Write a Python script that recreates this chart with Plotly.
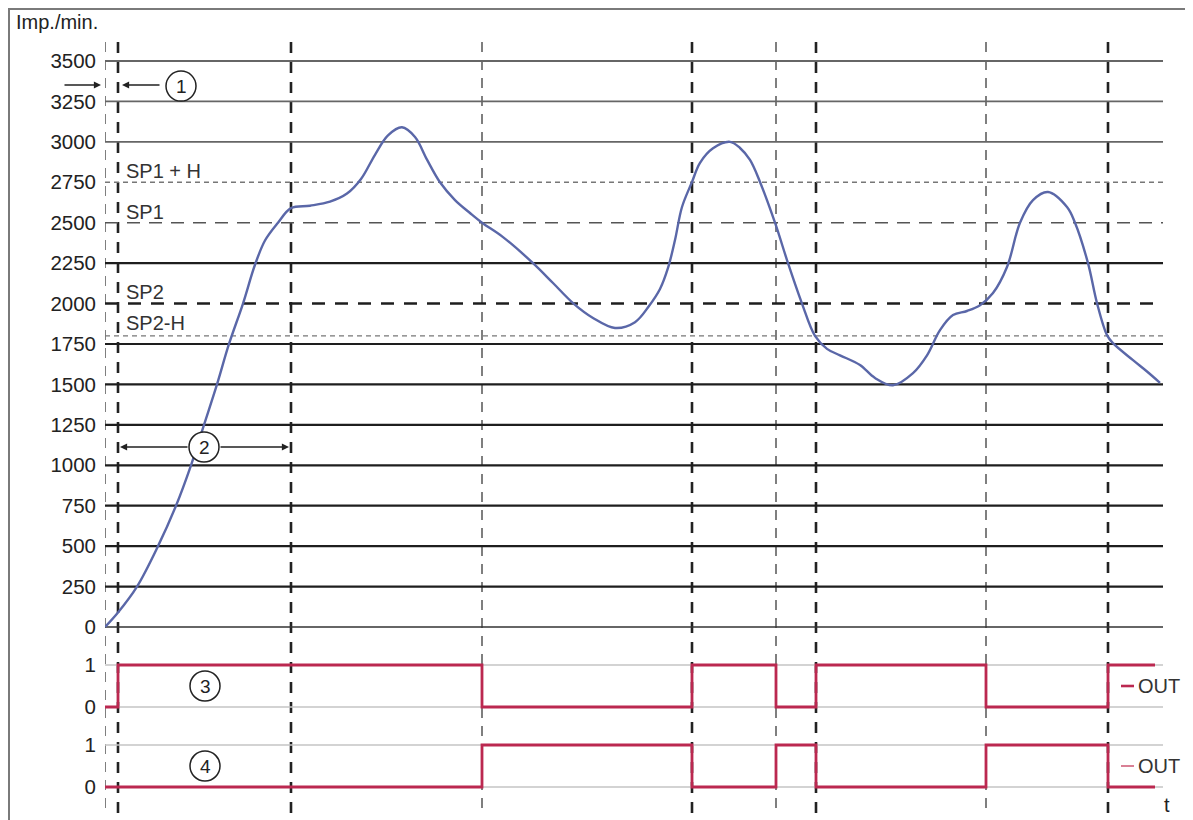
import plotly.graph_objects as go

# ---------------- data ----------------
t_curve = [0, 1.3, 3.2, 5.3, 7.1, 8.6, 9.9, 11.2, 12.4, 13.8,
           15.0, 16.0, 17.3, 18.6, 20.5, 22.5, 24.2, 25.6, 27.0, 28.3,
           29.7, 31.0, 32.2, 33.5, 35.0, 36.5, 37.7, 39.8, 42.8, 44.8,
           46.8, 48.8, 51.0, 53.0, 54.4, 55.5, 56.3, 57.0, 57.7, 58.7,
           59.5, 60.8, 62.5, 63.5, 64.5, 65.5, 67.0, 68.3, 69.7, 71.0,
           72.2, 73.5, 75.5, 77.0, 78.8, 80.8, 82.2, 83.5, 84.8, 86.2,
           87.5, 88.8, 90.2, 91.5, 92.8, 94.3, 96.2, 97.0, 98.3, 99.2,
           100.2, 100.8, 102.8, 104.2, 105.5]
speed = [0, 90, 250, 500, 750, 1000, 1250, 1500, 1750, 2000,
         2240, 2390, 2500, 2590, 2605, 2630, 2680, 2770, 2920, 3040,
         3090, 3030, 2890, 2750, 2640, 2560, 2500, 2411, 2250, 2127,
         2003, 1911, 1849, 1885, 1985, 2090, 2220, 2393, 2597, 2752,
         2870, 2960, 3000, 2962, 2888, 2752, 2500, 2250, 2000, 1800,
         1720, 1680, 1620, 1540, 1495, 1570, 1680, 1836, 1929, 1954,
         1990, 2065, 2226, 2500, 2640, 2690, 2597, 2500, 2250, 2003,
         1805, 1755, 1650, 1580, 1510]

t_out = [0, 1.3, 37.7, 58.7, 67.1, 71.1, 88.1, 100.3, 105.0]
out3 = [0, 1, 0, 1, 0, 1, 0, 1, 1]
out4 = [0, 0, 1, 0, 1, 0, 1, 0, 0]

thin_events = [0, 37.7, 67.1, 88.1]
thick_events = [1.3, 18.6, 58.7, 71.1, 100.3]

y_ticks = [0, 250, 500, 750, 1000, 1250, 1500, 1750, 2000, 2250, 2500, 2750, 3000, 3250, 3500]
solid_grid = [0, 250, 500, 750, 1000, 1250, 1500, 1750, 2250, 3000, 3250, 3500]
SP1_H, SP1, SP2, SP2_H = 2750, 2500, 2000, 1800
digital_ticks = [0, 1]
digital_labels = ["0", "1"]

# ---------------- geometry helpers (reference-pixel based) ----------------
OFF = 8                      # page body margin
W, H = 1193 - OFF, 820 - OFF
AX_LEFT, AX_RIGHT = 105, 1163  # reference pixels of the time axis
ML = AX_LEFT - OFF
MR = (W + OFF) - AX_RIGHT
PW = W - ML - MR
X_MAX = 105.8


def pxx(px):
    return (px - OFF - ML) / PW


def pxy(py):
    return 1 - (py - OFF) / H


FONT = "Liberation Sans, Arial, sans-serif"
RED = "#bb2850"
BLUE = "#5a67a8"

fig = go.Figure()

fig.add_trace(go.Scatter(x=t_curve, y=speed, mode="lines",
                         line=dict(color=BLUE, width=2.4, shape="spline", smoothing=1.0),
                         yaxis="y", hoverinfo="skip"))
fig.add_trace(go.Scatter(x=t_out, y=out3, mode="lines",
                         line=dict(color=RED, width=2.8, shape="hv"),
                         yaxis="y2", hoverinfo="skip"))
fig.add_trace(go.Scatter(x=t_out, y=out4, mode="lines",
                         line=dict(color=RED, width=2.8, shape="hv"),
                         yaxis="y3", hoverinfo="skip"))

shapes = []
for v in solid_grid:
    if v >= 3000:
        col, wd = "#666666", 1.8
    elif v == 0:
        col, wd = "#333333", 1.6
    else:
        col, wd = "#1e1e1e", 2.2
    shapes.append(dict(type="line", xref="x", yref="y", x0=0, x1=X_MAX, y0=v, y1=v,
                       line=dict(color=col, width=wd), layer="below"))
shapes.append(dict(type="line", xref="x", yref="y", x0=0, x1=X_MAX, y0=SP1_H, y1=SP1_H,
                   line=dict(color="#777777", width=1.6, dash="5px,4px"), layer="below"))
shapes.append(dict(type="line", xref="x", yref="y", x0=0, x1=X_MAX, y0=SP1, y1=SP1,
                   line=dict(color="#555555", width=1.6, dash="13px,9px"), layer="below"))
shapes.append(dict(type="line", xref="x", yref="y", x0=0, x1=X_MAX, y0=SP2, y1=SP2,
                   line=dict(color="#1e1e1e", width=2.5, dash="13px,10px"), layer="below"))
shapes.append(dict(type="line", xref="x", yref="y", x0=0, x1=X_MAX, y0=SP2_H, y1=SP2_H,
                   line=dict(color="#777777", width=1.4, dash="5px,4px"), layer="below"))
for ya in ("y2", "y3"):
    for v in digital_ticks:
        shapes.append(dict(type="line", xref="x", yref=ya, x0=0, x1=X_MAX, y0=v, y1=v,
                           line=dict(color="#c4c4c4", width=1.3), layer="below"))
for t in thin_events:
    shapes.append(dict(type="line", xref="x", yref="paper", x0=t, x1=t, y0=pxy(42), y1=pxy(815),
                       line=dict(color="#555555", width=1.5, dash="10px,8px"), layer="below"))
for t in thick_events:
    shapes.append(dict(type="line", xref="x", yref="paper", x0=t, x1=t, y0=pxy(42), y1=pxy(815),
                       line=dict(color="#222222", width=2.6, dash="11px,9px"), layer="below"))
shapes.append(dict(type="rect", xref="paper", yref="paper", x0=pxx(9), x1=pxx(1189),
                   y0=pxy(9), y1=pxy(840), line=dict(color="#7a7a7a", width=2),
                   fillcolor="rgba(0,0,0,0)", layer="above"))

circles = [("1", "x", "y", 7.6, 3345), ("2", "x", "y", 9.9, 1113),
           ("3", "x", "y2", 10.0, 0.5), ("4", "x", "y3", 10.0, 0.5)]
annotations = []
for lab, xr, yr, cx, cy in circles:
    shapes.append(dict(type="circle", xref=xr, yref=yr, xsizemode="pixel", ysizemode="pixel",
                       xanchor=cx, yanchor=cy, x0=-15, x1=15, y0=-15, y1=15,
                       line=dict(color="#222222", width=1.5), fillcolor="white", layer="above"))
    annotations.append(dict(x=cx, y=cy, xref=xr, yref=yr, text=lab, showarrow=False,
                            font=dict(family=FONT, size=19, color="#222222")))

for ya, col, wd in (("y2", RED, 2.6), ("y3", "#d0607a", 1.6)):
    shapes.append(dict(type="line", xref="x", yref=ya, x0=101.6, x1=102.9, y0=0.5, y1=0.5,
                       line=dict(color=col, width=wd), layer="above"))
    annotations.append(dict(x=103.1, y=0.5, xref="x", yref=ya, text="OUT", showarrow=False,
                            xanchor="left", yanchor="middle",
                            font=dict(family=FONT, size=20, color="#333333")))

arrow_style = dict(showarrow=True, arrowhead=2, arrowsize=1.1, arrowwidth=1.3,
                   arrowcolor="#222222", text="")
annotations.append(dict(x=pxx(101), y=pxy(85), xref="paper", yref="paper", ax=-38, ay=0, **arrow_style))
annotations.append(dict(x=pxx(122), y=pxy(85), xref="paper", yref="paper", ax=39, ay=0, **arrow_style))
annotations.append(dict(x=1.5, y=1113, xref="x", yref="y", ax=8.4, ay=1113,
                        axref="x", ayref="y", **arrow_style))
annotations.append(dict(x=18.4, y=1113, xref="x", yref="y", ax=11.4, ay=1113,
                        axref="x", ayref="y", **arrow_style))

for txt, v in (("SP1 + H", 2820), ("SP1", 2566), ("SP2", 2071), ("SP2-H", 1880)):
    annotations.append(dict(x=1.9, y=v, xref="x", yref="y", text=txt, showarrow=False,
                            xanchor="left", yanchor="middle",
                            font=dict(family=FONT, size=20, color="#333333")))

annotations.append(dict(x=pxx(14), y=pxy(22), xref="paper", yref="paper", text="Imp./min.",
                        showarrow=False, xanchor="left", yanchor="middle",
                        font=dict(family=FONT, size=20, color="#222222")))
annotations.append(dict(x=pxx(1167), y=pxy(805), xref="paper", yref="paper", text="t",
                        showarrow=False, xanchor="center", yanchor="middle",
                        font=dict(family=FONT, size=20, color="#222222")))

px_per_unit = 40.43 / 250
y1_top, y1_bot = 40, 640
y1_range = [-(y1_bot - 627) / px_per_unit, (627 - y1_top) / px_per_unit]

tickfont = dict(family=FONT, size=20.5, color="#222222")
fig.update_layout(
    width=W, height=H, autosize=False,
    margin=dict(l=ML, r=MR, t=0, b=0),
    paper_bgcolor="white", plot_bgcolor="white",
    showlegend=False,
    xaxis=dict(range=[0, X_MAX], visible=False, fixedrange=True),
    yaxis=dict(domain=[pxy(y1_bot), pxy(y1_top)], range=y1_range, tickvals=y_ticks,
               ticks="", showgrid=False, zeroline=False, showline=False,
               tickfont=tickfont, ticklabelstandoff=8),
    yaxis2=dict(domain=[pxy(725), pxy(645)], range=[-(725 - 707) / 42, 1 + (665 - 645) / 42],
                tickvals=digital_ticks, ticktext=digital_labels, ticks="", showgrid=False,
                zeroline=False, showline=False, tickfont=tickfont, ticklabelstandoff=8),
    yaxis3=dict(domain=[pxy(807), pxy(727)], range=[-(807 - 787) / 42, 1 + (745 - 727) / 42],
                tickvals=digital_ticks, ticktext=digital_labels, ticks="", showgrid=False,
                zeroline=False, showline=False, tickfont=tickfont, ticklabelstandoff=8),
    shapes=shapes,
    annotations=annotations,
)

fig.write_html("out.html")
